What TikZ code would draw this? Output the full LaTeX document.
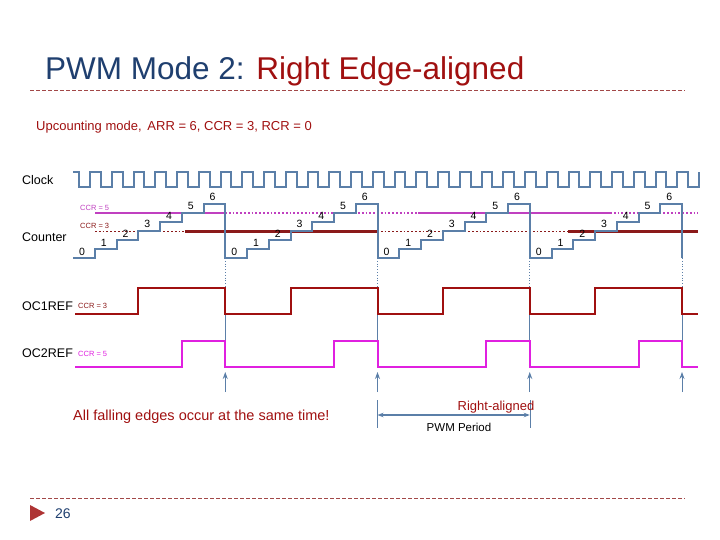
\documentclass[tikz,border=0pt]{standalone}
\usepackage{fontspec}
\setmainfont{Liberation Sans}
\usetikzlibrary{arrows.meta}
\definecolor{ttl}{HTML}{1F3F6F}
\definecolor{dred}{HTML}{A01010}
\definecolor{cnt}{HTML}{5B7FA8}
\definecolor{mag}{HTML}{E020E0}
\definecolor{ccrm}{HTML}{C040C0}
\definecolor{ccrr}{HTML}{8B1A1A}
\tikzset{
  lbl/.style={inner sep=0pt,anchor=base west},
  num/.style={inner sep=0pt,font=\fontsize{10.5}{10}\selectfont,anchor=base},
  wave/.style={line width=2pt,line join=miter},
  guide/.style={cnt,line width=0.8pt},
  tiny/.style={inner sep=0pt,anchor=base west,font=\fontsize{7.5}{8}\selectfont}
}
\begin{document}
\begin{tikzpicture}[x=1pt,y=-1pt]
\useasboundingbox (0,0) rectangle (720,540);
% title
\node[lbl,font=\fontsize{31.5}{33}\selectfont,text=ttl] (title) at (45,80) {PWM Mode 2: \textcolor{dred}{Right Edge-aligned}};
\draw[ccrr!80,dashed,dash pattern=on 4pt off 2pt] (30,90) -- (685,90);
\node[lbl,font=\fontsize{13}{14}\selectfont,text=dred] (sub) at (36,131) {Upcounting mode,\, ARR = 6, CCR = 3, RCR = 0};
% labels
\node[lbl,font=\fontsize{12.5}{14}\selectfont] (clk) at (22,185) {Clock};
\node[lbl,font=\fontsize{12.5}{14}\selectfont] (ctr) at (22,241) {Counter};
\node[lbl,font=\fontsize{12.5}{14}\selectfont] (oc1) at (22,310) {OC1REF};
\node[lbl,font=\fontsize{12.5}{14}\selectfont] (oc2) at (22,357) {OC2REF};
\node[tiny,text=ccrm] (c5) at (80,211) {CCR = 5};
\node[tiny,text=ccrr] (c3) at (80,229) {CCR = 3};
\node[tiny,text=ccrr] (c3b) at (78,308) {CCR = 3};
\node[tiny,text=mag] (c5b) at (78,356) {CCR = 5};
% clock
\draw[cnt,line width=2pt] (73,172) \foreach \k in {0,...,28}{ -- ({73+\k*21.75+6},172) -- ({73+\k*21.75+6},187) -- ({73+\k*21.75+17},187) -- ({73+\k*21.75+17},172) } -- (699,172);
% CCR lines
\draw[ccrm,line width=1.8pt] (95,213) -- (225,213) (418,213) -- (610,213);
\draw[ccrm,line width=1.8pt,dotted] (225,213) -- (418,213) (610,213) -- (698,213);
\draw[ccrr,line width=2pt] (185,231.5) -- (377,231.5) (568,231.5) -- (698,231.5);
\draw[ccrr,line width=1.8pt,dotted] (95,231.5) -- (185,231.5) (377,231.5) -- (568,231.5);
% counter
\draw[cnt,wave] (73,258) \foreach \c in {0,...,3}{ \foreach \n in {0,...,6}{ -- ({73+(7*\c+\n)*21.75},{258-9*\n}) -- ({73+(7*\c+\n+1)*21.75},{258-9*\n}) } -- ({73+(7*\c+7)*21.75},258) };
\foreach \c in {0,...,3}{
  \foreach \n in {0,...,6}{
    \node[num] (n\c\n) at ({73+(7*\c+\n)*21.75+9},{258-9*\n-3}) {\n};
  }
  \draw[guide,dotted] ({73+(7*\c+7)*21.75},258) -- ({73+(7*\c+7)*21.75},288);
  \draw[guide] ({73+(7*\c+7)*21.75},288) -- ({73+(7*\c+7)*21.75},368);
  \draw[guide,-{Stealth[length=7pt,width=5pt]}] ({73+(7*\c+7)*21.75},392) -- ({73+(7*\c+7)*21.75},372);
}
% OC1REF
\draw[dred,wave] (75,314) \foreach \c in {0,...,3}{ -- ({73+(7*\c+3)*21.75},314) -- ({73+(7*\c+3)*21.75},288) -- ({73+(7*\c+7)*21.75},288) -- ({73+(7*\c+7)*21.75},314) } -- (698,314);
% OC2REF
\draw[mag,wave] (75,367) \foreach \c in {0,...,3}{ -- ({73+(7*\c+5)*21.75},367) -- ({73+(7*\c+5)*21.75},341) -- ({73+(7*\c+7)*21.75},341) -- ({73+(7*\c+7)*21.75},367) } -- (698,367);
% period bracket
\coordinate (pa) at (377.5,415);
\coordinate (pb) at (529.75,415);
\draw[guide,line width=0.5pt] (377.5,400) -- (377.5,428) (529.75,400) -- (529.75,428);
\draw[guide,line width=1.2pt,{Stealth[length=6pt]}-{Stealth[length=6pt]}] (pa) -- (pb);
\node[inner sep=0pt,anchor=base,font=\fontsize{13}{14}\selectfont,text=dred] (ra) at (496,410) {Right-aligned};
\node[inner sep=0pt,anchor=base,font=\fontsize{11.5}{12}\selectfont] (pp) at (459,431) {PWM Period};
\node[lbl,font=\fontsize{14.5}{16}\selectfont,text=dred] (all) at (73,420) {All falling edges occur at the same time!};
% footer
\draw[ccrr!80,dashed,dash pattern=on 4pt off 2pt] (30,498) -- (685,498);
\fill[dred!85!white] (30,505) -- (45,513) -- (30,521) -- cycle;
\node[lbl,font=\fontsize{14}{16}\selectfont,text=ttl] (pg) at (55,518) {26};
\end{tikzpicture}
\end{document}
